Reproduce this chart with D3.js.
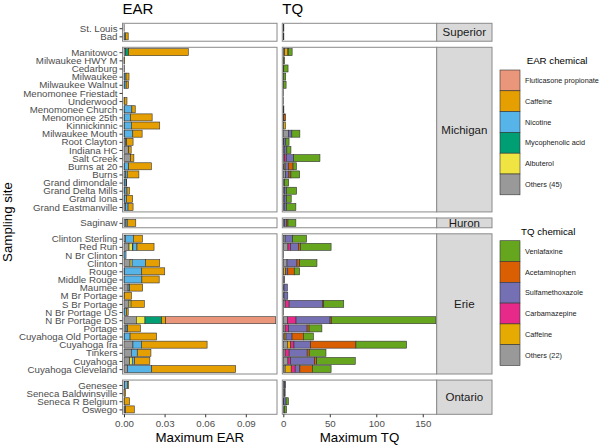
<!DOCTYPE html>
<html><head><meta charset="utf-8">
<script src="https://cdnjs.cloudflare.com/ajax/libs/d3/7.8.5/d3.min.js"></script>
<style>body{margin:0;background:#fff}svg{display:block;font-family:"Liberation Sans",Arial,sans-serif}</style>
</head><body><svg id="c" width="600" height="445"></svg>
<script>
const lakeNames = ["Superior","Michigan","Huron","Erie","Ontario"];
const sites = ["St. Louis","Bad",
 "Manitowoc","Milwaukee HWY M","Cedarburg","Milwaukee","Milwaukee Walnut","Menomonee Friestadt","Underwood","Menomonee Church","Menomonee 25th","Kinnickinnic","Milwaukee Mouth","Root Clayton","Indiana HC","Salt Creek","Burns at 20","Burns","Grand dimondale","Grand Delta Mills","Grand Iona","Grand Eastmanville",
 "Saginaw",
 "Clinton Sterling","Red Run","N Br Clinton","Clinton","Rouge","Middle Rouge","Maumee","M Br Portage","S Br Portage","N Br Portage US","N Br Portage DS","Portage","Cuyahoga Old Portage","Cuyahoga Ira","Tinkers","Cuyahoga","Cuyahoga Cleveland",
 "Genesee","Seneca Baldwinsville","Seneca R Belgium","Oswego"];
const siteLake = [0,0, 1,1,1,1,1,1,1,1,1,1,1,1,1,1,1,1,1,1,1,1, 2, 3,3,3,3,3,3,3,3,3,3,3,3,3,3,3,3,3, 4,4,4,4];

// EAR values (stack order left to right)
const earOthers   = [0.0001,0.0002, 0.0012,0.0001,0.0003,0.0003,0.0003,0,0.0002,0.0003,0.0003,0.0004,0.0005,0.001,0.0035,0.0048,0.0004,0.0012,0.0003,0.0006,0.0005,0.0012, 0.0014, 0.001,0.0037,0.0001,0.0045,0.0005,0.0002,0.003,0.0003,0.0037,0.0002,0.0091,0.0015,0.0003,0.0066,0.0054,0.0042,0.0025, 0.0005,0.0001,0.0002,0.0007];
const earAlbuterol= [0,0, 0,0,0,0,0,0,0,0,0,0,0,0,0,0,0,0,0,0,0,0, 0, 0,0.0025,0,0.0015,0,0,0,0,0.0015,0,0.0064,0,0,0,0,0.0019,0, 0,0,0,0];
const earMyco     = [0,0, 0.0022,0,0,0,0,0,0,0,0,0,0,0,0,0,0,0,0,0,0,0, 0, 0,0.0004,0,0,0,0,0,0,0,0,0.0123,0,0,0,0,0,0, 0,0,0,0];
const earNicotine = [0,0.0009, 0,0,0,0.0012,0.0013,0,0,0.0055,0.0045,0.005,0.006,0.001,0,0,0.003,0.0012,0.0013,0.0016,0.0014,0.0018, 0.001, 0.0059,0.003,0.0014,0.0098,0.0126,0.013,0.0012,0,0,0.0015,0,0.0012,0.0042,0.0063,0.0044,0.0017,0.018, 0.002,0,0,0.0004];
const earCaffeine = [0,0.002, 0.0441,0.0004,0,0.0022,0.0018,0,0.002,0.0025,0.016,0.021,0.0069,0.0047,0.0018,0.0025,0.0168,0.0086,0.0004,0.0018,0.0045,0.0037, 0.0063, 0.0067,0.0126,0,0.0106,0.017,0.0128,0.0096,0.0052,0.0098,0.0014,0.003,0.0094,0.0196,0.0485,0.0101,0.0113,0.062, 0.001,0.001,0.0039,0.0065];
const earFluticasone=[0,0, 0,0,0,0,0,0,0,0,0,0,0,0,0,0,0,0,0,0,0,0, 0, 0,0,0,0,0,0,0,0,0,0,0.0813,0,0,0,0,0,0, 0,0,0,0];

// TQ values
const tqOthers  = [0.6,0.6, 1.5,0.2,0.5,0.3,0.3,0.1,0.2,0.6,0.5,0.3,5.7,0.5,1,1.5,0.7,2.5,1.5,1.5,1,1, 1.5, 2,5,0.3,4,0.3,1.5,0.8,0.8,2,0.3,4.3,2,1,4.3,2,5,2, 1.5,1.5,0.5,1.5];
const tqCaffeine= [0,0, 3.5,0,0,0,0,0,0,0,0,2,0,0,0,0,1.2,0,0,0,0,0, 0, 0,0,0,0,2,0,0,0,0,0,0,0,1.9,3.6,0,0,6.5, 0,0,0,0];
const tqCarba   = [0,0, 0,0,0,0,0,0,0,0,0,0,0,0,0,1.8,0,0,0,0,0,0, 0, 0,2.8,0,0,0,0,0,0,4.3,0,9.4,3.6,0,3.6,4.3,2.9,4.3, 0,0,0,0];
const tqSulfa   = [0,0, 0,0,0,0,0,0,0,0,0,0,3.5,2.2,2.8,7.8,3.6,3.5,0,2,2.5,2.5, 2, 8,8.6,0,10.7,2.5,0,3.5,4,35.8,0,36.6,20,6.5,17.9,19.4,25.8,5, 1,0.5,2.5,0];
const tqAcet    = [0,0, 0.3,0,0,0,0,0,0,0,2,0,0,0,0,0,5,2.2,0,0,0,0, 1.5, 0,2,0,2.9,7,0,0,0,1.4,0,1.4,2.2,12.2,48.7,2.2,2.2,13.6, 0,0,0,0];
const tqVenla   = [0,0, 4.2,1.2,4.6,2.3,2.7,0,0,0,0,0,8.6,3.5,4.4,28.3,3.6,9.4,4.3,10.8,5,10, 8.5, 15,33,0,18.6,5.7,0,0,0,21.5,0,112.3,13.7,10.8,54.5,18,41.5,20, 0,0,2.5,2];

const earKeys = ["Others (45)","Albuterol","Mycophenolic acid","Nicotine","Caffeine","Fluticasone propionate"];
const earVals = [earOthers,earAlbuterol,earMyco,earNicotine,earCaffeine,earFluticasone];
const earColors = ["#999999","#F0E442","#009E73","#56B4E9","#E69F00","#E9967A"];
const tqKeys = ["Others (22)","Caffeine","Carbamazepine","Sulfamethoxazole","Acetaminophen","Venlafaxine"];
const tqVals = [tqOthers,tqCaffeine,tqCarba,tqSulfa,tqAcet,tqVenla];
const tqColors = ["#999999","#E6AB02","#E7298A","#7570B3","#D95F02","#66A61E"];
const earTicks = [0,0.03,0.06,0.09];
const tqTicks = [0,50,100,150];

const svg = d3.select("#c");
const txt = "#4d4d4d";
const top0 = 23.3, unit = 8.15, gap = 6.06;
const xE = d3.scaleLinear().domain([-0.00111,0.11305]).range([122.5,277]);
const xT = d3.scaleLinear().domain([-1.08,165]).range([282.3,436.7]);
const stripX0 = 436.7, stripX1 = 492;

// facets
let cur = top0;
const facets = lakeNames.map((name,li)=>{
  const fs = sites.filter((s,i)=>siteLake[i]===li);
  const h = (fs.length+0.2)*unit;
  const f = {name, sites:fs, y0:cur, y1:cur+h};
  f.y = d3.scalePoint().domain(fs).range([cur,cur+h]).padding(0.6);
  cur += h + gap;
  return f;
});
const yOf = (i)=>facets[siteLake[i]].y(sites[i]);
const bh = unit*0.86;

function panel(f, x){
  svg.append("rect").attr("x",x.range()[0]).attr("y",f.y0).attr("width",x.range()[1]-x.range()[0]).attr("height",f.y1-f.y0)
    .attr("fill","#fff").attr("stroke","none");
}
function border(f, x){
  svg.append("rect").attr("x",x.range()[0]).attr("y",f.y0).attr("width",x.range()[1]-x.range()[0]).attr("height",f.y1-f.y0)
    .attr("fill","none").attr("stroke","#8a8a8a").attr("stroke-width",1);
}
facets.forEach(f=>{panel(f,xE);panel(f,xT);});

function drawBars(keys, vals, colors, x){
  const rows = sites.map((s,i)=>{const r={i}; keys.forEach((k,j)=>r[k]=vals[j][i]); return r;});
  const series = d3.stack().keys(keys)(rows);
  series.forEach((ser,j)=>{
    svg.append("g").selectAll("rect").data(ser.filter(d=>d[1]-d[0]>0)).join("rect")
      .attr("x",d=>x(d[0])).attr("width",d=>Math.max(0,x(d[1])-x(d[0])))
      .attr("y",d=>yOf(d.data.i)-bh/2).attr("height",bh)
      .attr("fill",colors[j]).attr("stroke","#333").attr("stroke-width",0.6);
  });
}
drawBars(earKeys, earVals, earColors, xE);
drawBars(tqKeys, tqVals, tqColors, xT);
facets.forEach(f=>{border(f,xE);border(f,xT);});

// y axes
facets.forEach(f=>{
  const g = svg.append("g").attr("transform",`translate(${xE.range()[0]},0)`)
    .call(d3.axisLeft(f.y).tickSize(3).tickPadding(2));
  g.select(".domain").remove();
  g.selectAll("line").attr("stroke","#333");
  g.selectAll("text").attr("fill",txt).attr("font-size","9.7px").attr("font-family","Liberation Sans, Arial, sans-serif");
});
// x axes
const yb = facets[facets.length-1].y1;
[[xE,earTicks,d3.format(".2f")],[xT,tqTicks,d3.format("d")]].forEach(([x,t,fm])=>{
  const g = svg.append("g").attr("transform",`translate(0,${yb})`)
    .call(d3.axisBottom(x).tickValues(t).tickFormat(fm).tickSize(3).tickPadding(2.5));
  g.select(".domain").remove();
  g.selectAll("line").attr("stroke","#333");
  g.selectAll("text").attr("fill",txt).attr("font-size","9.7px").attr("font-family","Liberation Sans, Arial, sans-serif");
});

// strips
const defs = svg.append("defs");
facets.forEach((f,i)=>{
  defs.append("clipPath").attr("id","cp"+i).append("rect")
    .attr("x",stripX0).attr("y",f.y0).attr("width",stripX1-stripX0).attr("height",f.y1-f.y0);
  svg.append("rect").attr("x",stripX0).attr("y",f.y0).attr("width",stripX1-stripX0).attr("height",f.y1-f.y0)
    .attr("fill","#d9d9d9").attr("stroke","#8a8a8a").attr("stroke-width",1);
  svg.append("text").attr("clip-path",`url(#cp${i})`).attr("x",(stripX0+stripX1)/2).attr("y",(f.y0+f.y1)/2)
    .attr("dy","0.36em").attr("text-anchor","middle").attr("font-size","11.5px").attr("fill","#1a1a1a").text(f.name);
});

// titles
svg.append("text").attr("x",122.5).attr("y",14).attr("font-size","15px").attr("fill","#000").text("EAR");
svg.append("text").attr("x",282.3).attr("y",14).attr("font-size","15px").attr("fill","#000").text("TQ");
svg.append("text").attr("x",(xE.range()[0]+xE.range()[1])/2).attr("y",441.5).attr("text-anchor","middle").attr("font-size","13.3px").attr("fill","#000").text("Maximum EAR");
svg.append("text").attr("x",(xT.range()[0]+xT.range()[1])/2).attr("y",441.5).attr("text-anchor","middle").attr("font-size","13.3px").attr("fill","#000").text("Maximum TQ");
svg.append("text").attr("transform","translate(12,222) rotate(-90)").attr("text-anchor","middle").attr("font-size","13.3px").attr("fill","#000").text("Sampling site");

// legends
function legend(title, tx, ty, keys, colors, y0){
  svg.append("text").attr("x",tx).attr("y",ty).attr("font-size","9.7px").attr("fill","#000").text(title);
  const kh = 20.8;
  const order = d3.range(keys.length).reverse();
  order.forEach((j,k)=>{
    svg.append("rect").attr("x",500).attr("y",y0+k*kh).attr("width",20).attr("height",kh)
      .attr("fill",colors[j]).attr("stroke","#333").attr("stroke-width",0.6);
    svg.append("text").attr("x",525).attr("y",y0+k*kh+kh/2+2.6).attr("font-size","7.3px").attr("fill","#1a1a1a").text(keys[j]);
  });
}
legend("EAR chemical",526.7,64,earKeys,earColors,70);
legend("TQ chemical",521,234.5,tqKeys,tqColors,240.7);
</script></body></html>
